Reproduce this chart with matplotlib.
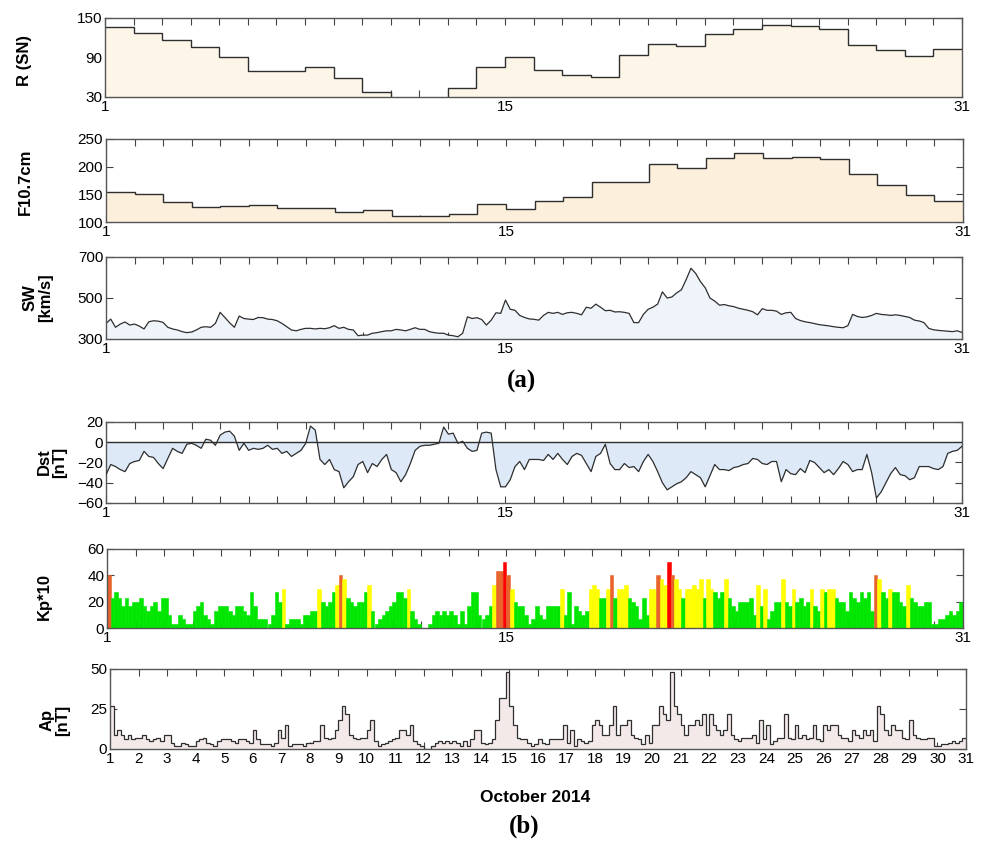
import numpy as np
import matplotlib
matplotlib.use('Agg')
import matplotlib.pyplot as plt

plt.rcParams['font.family'] = ['Liberation Sans', 'DejaVu Sans']

# daily sunspot number and F10.7 flux (one value per day, Oct 1-30)
sunspot = [136, 127, 117, 106, 90, 69, 69, 75, 59, 37,
           27, 27, 43, 75, 90, 71, 64, 61, 94, 111,
           108, 125, 134, 139, 138, 134, 109, 101, 93, 103]
f107 = [155, 150, 137, 127, 129, 131, 126, 126, 118, 121,
        111, 110, 114, 132, 124, 138, 145, 172, 172, 204,
        198, 216, 224, 215, 217, 214, 187, 166, 148, 138]

# solar wind speed, 4-hourly samples
sw_speed = [376, 397, 357, 373, 383, 368,
            373, 363, 349, 384, 389, 387,
            381, 357, 349, 344, 336, 331,
            334, 344, 357, 360, 357, 376,
            430, 405, 379, 357, 412, 400,
            397, 395, 405, 404, 397, 395,
            389, 376, 360, 344, 340, 347,
            352, 352, 349, 352, 350, 355,
            365, 352, 357, 347, 344, 316,
            319, 319, 328, 331, 336, 340,
            340, 347, 344, 340, 347, 355,
            347, 347, 336, 331, 328, 328,
            319, 316, 311, 328, 408, 400,
            404, 395, 368, 392, 428, 425,
            490, 445, 440, 415, 405, 398,
            396, 392, 415, 430, 425, 430,
            420, 428, 430, 425, 418, 455,
            450, 470, 455, 438, 440, 432,
            433, 430, 425, 380, 380, 420,
            445, 455, 470, 530, 500, 505,
            525, 540, 590, 645, 620, 580,
            550, 500, 485, 465, 468, 462,
            458, 450, 445, 440, 433, 418,
            448, 440, 440, 436, 420, 428,
            430, 400, 390, 384, 380, 375,
            370, 367, 364, 360, 357, 355,
            365, 420, 410, 405, 408, 415,
            425, 420, 418, 415, 418, 415,
            410, 405, 392, 388, 380, 352,
            345, 342, 340, 338, 336, 340,
            332]

# Dst index, 4-hourly samples
dst = [-32, -22, -24, -27, -29, -21,
       -19, -18, -9, -14, -15, -21,
       -26, -16, -6, -9, -11, -2,
       -1, -3, -6, 3, 2, -3,
       7, 10, 11, 6, -8, -1,
       -8, -6, -7, -6, -3, -7,
       -6, -11, -9, -14, -11, -8,
       -1, 16, 12, -17, -22, -17,
       -27, -29, -45, -39, -34, -22,
       -19, -30, -21, -24, -17, -12,
       -27, -30, -39, -32, -21, -8,
       -4, -3, -3, -2, -1, 15,
       8, 9, -1, 1, -6, -9,
       -8, 9, 10, 9, -27, -44,
       -44, -37, -24, -19, -27, -17,
       -17, -17, -18, -12, -17, -11,
       -17, -22, -14, -11, -13, -21,
       -29, -14, -11, -2, -21, -27,
       -27, -21, -25, -24, -29, -19,
       -12, -19, -29, -40, -47, -44,
       -41, -39, -35, -29, -32, -35,
       -44, -33, -22, -27, -27, -28,
       -25, -24, -22, -21, -16, -17,
       -21, -22, -19, -19, -39, -27,
       -31, -32, -26, -30, -18, -20,
       -25, -30, -27, -32, -26, -19,
       -22, -29, -27, -27, -12, -30,
       -55, -49, -40, -31, -25, -32,
       -33, -37, -35, -24, -24, -24,
       -26, -27, -24, -11, -9, -8,
       -4]

# Kp*10, 3-hourly
kp10 = [40, 23, 27, 23, 17, 23, 17, 20,
        20, 23, 17, 13, 17, 20, 13, 23,
        23, 10, 3, 3, 10, 7, 3, 3,
        13, 17, 20, 10, 7, 3, 13, 17,
        17, 17, 13, 10, 17, 17, 13, 10,
        27, 17, 7, 7, 7, 3, 10, 27,
        20, 30, 3, 7, 7, 7, 3, 10,
        10, 13, 13, 30, 20, 17, 20, 27,
        33, 40, 37, 23, 20, 17, 20, 20,
        27, 33, 13, 3, 7, 10, 13, 17,
        20, 27, 27, 23, 30, 13, 7, 3,
        0, 0, 3, 10, 13, 10, 13, 10,
        13, 10, 3, 13, 3, 17, 27, 27,
        10, 7, 10, 17, 33, 43, 43, 50,
        40, 30, 20, 17, 17, 10, 3, 7,
        17, 10, 7, 17, 17, 17, 17, 30,
        10, 27, 3, 17, 13, 10, 13, 30,
        33, 30, 23, 23, 30, 40, 23, 30,
        30, 33, 23, 20, 17, 7, 23, 10,
        30, 30, 40, 37, 33, 50, 40, 37,
        30, 23, 30, 30, 33, 30, 37, 23,
        37, 30, 27, 23, 27, 37, 23, 17,
        13, 20, 20, 20, 23, 10, 33, 17,
        30, 7, 13, 20, 20, 37, 20, 17,
        30, 20, 23, 17, 20, 30, 17, 13,
        30, 27, 30, 30, 23, 20, 20, 13,
        27, 23, 20, 27, 23, 27, 13, 40,
        37, 27, 23, 30, 27, 27, 20, 17,
        33, 23, 20, 17, 17, 20, 20, 3,
        3, 7, 7, 10, 13, 10, 13, 20]

# ap, 3-hourly
ap = [27, 9, 12, 9, 6, 9, 6, 7,
      7, 9, 6, 5, 6, 7, 5, 9,
      9, 4, 2, 2, 4, 3, 2, 2,
      5, 6, 7, 4, 3, 2, 5, 6,
      6, 6, 5, 4, 6, 6, 5, 4,
      12, 6, 3, 3, 3, 2, 4, 12,
      7, 15, 2, 3, 3, 3, 2, 4,
      4, 5, 5, 15, 7, 6, 7, 12,
      18, 27, 22, 9, 7, 6, 7, 7,
      12, 18, 5, 2, 3, 4, 5, 6,
      7, 12, 12, 9, 15, 5, 3, 2,
      0, 0, 2, 4, 5, 4, 5, 4,
      5, 4, 2, 5, 2, 6, 12, 12,
      4, 3, 4, 6, 18, 32, 32, 48,
      27, 15, 7, 6, 6, 4, 2, 3,
      6, 4, 3, 6, 6, 6, 6, 15,
      4, 12, 2, 6, 5, 4, 5, 15,
      18, 15, 9, 9, 15, 27, 9, 15,
      15, 18, 9, 7, 6, 3, 9, 4,
      15, 15, 27, 22, 18, 48, 27, 22,
      15, 9, 15, 15, 18, 15, 22, 9,
      22, 15, 12, 9, 12, 22, 9, 6,
      5, 7, 7, 7, 9, 4, 18, 6,
      15, 3, 5, 7, 7, 22, 7, 6,
      15, 7, 9, 6, 7, 15, 6, 5,
      15, 12, 15, 15, 9, 7, 7, 5,
      12, 9, 7, 12, 9, 12, 5, 27,
      22, 12, 9, 15, 12, 12, 7, 6,
      18, 9, 7, 6, 6, 7, 7, 2,
      2, 3, 3, 4, 5, 4, 5, 7]

days = np.arange(1, 32)
W, H = 983, 843
LINE = '#2e2e2e'


def px_rect(left, top, right, bottom):
    return [left / W, 1 - bottom / H, (right - left) / W, (bottom - top) / H]


def make_panel(rect, ylim, yticks, all_days=False):
    ax = fig.add_axes(rect)
    ax.set_xlim(1, 31)
    ax.set_ylim(*ylim)
    ax.set_yticks(yticks)
    ax.set_xticks(days)
    if all_days:
        ax.set_xticklabels([str(d) for d in days])
    else:
        ax.set_xticklabels([str(d) if d in (1, 15, 31) else '' for d in days])
    ax.tick_params(direction='in', top=True, right=True, length=5, width=0.8,
                   color='#444444', labelsize=11, pad=2)
    # ticks go under the filled areas, like the original
    ax.set_axisbelow(True)
    for s in ax.spines.values():
        s.set_color('#555555')
        s.set_linewidth(1.0)
    return ax


def ylab(text, x, y):
    fig.text(x / W, 1 - y / H, text, rotation=90, ha='center', va='center',
             fontsize=12, fontweight='bold', multialignment='center',
             linespacing=1.1)


fig = plt.figure(figsize=(W / 100, H / 100), dpi=100)

# R (SN)
ax = make_panel(px_rect(105, 18, 962, 97), (30, 150), [30, 90, 150])
ax.stairs(sunspot, days, baseline=0, fill=True, color='#fdf5e8', lw=0, zorder=1)
ax.stairs(sunspot, days, baseline=None, color=LINE, lw=1.0, zorder=2)
ylab('R (SN)', 25, 60)

# F10.7
ax = make_panel(px_rect(106, 139, 963, 222), (100, 250), [100, 150, 200, 250])
ax.stairs(f107, days, baseline=0, fill=True, color='#fcf0dc', lw=0, zorder=1)
ax.stairs(f107, days, baseline=None, color=LINE, lw=1.0, zorder=2)
ylab('F10.7cm', 25, 182)

# solar wind
t4 = 1 + np.arange(len(sw_speed)) / 6
ax = make_panel(px_rect(106, 257, 962, 339), (300, 700), [300, 500, 700])
ax.fill_between(t4, 300, sw_speed, color='#eff4fb', lw=0, zorder=1)
ax.plot(t4, sw_speed, color=LINE, lw=0.9, zorder=2)
ylab('SW\n[km/s]', 38, 298)

fig.text(522 / W, 1 - 381 / H, '(a)', family=['Liberation Serif', 'DejaVu Serif'],
         fontsize=18, fontweight='bold', ha='center', va='center')

# Dst
ax = make_panel(px_rect(106, 422, 962, 503), (-60, 20), [-60, -40, -20, 0, 20])
ax.fill_between(t4, 0, dst, color='#dde9f7', lw=0, zorder=1)
ax.axhline(0, color=LINE, lw=1.0, zorder=2)
ax.plot(t4, dst, color=LINE, lw=0.9, zorder=3)
ylab('Dst\n[nT]', 52, 462)

# Kp*10
t3 = 1 + np.arange(len(kp10)) / 8
kp_colors = []
for v in kp10:
    if v >= 47:
        kp_colors.append('#ff0000')
    elif v >= 40:
        kp_colors.append('#e8632b')
    elif v >= 30:
        kp_colors.append('#ffff00')
    else:
        kp_colors.append('#00e600')
ax = make_panel(px_rect(107, 549, 963, 628), (0, 60), [0, 20, 40, 60])
ax.bar(t3, kp10, width=0.125, align='edge', color=kp_colors,
       edgecolor=kp_colors, lw=0.4, zorder=1)
ylab('Kp*10', 44, 597)

# Ap
edges3 = 1 + np.arange(len(ap) + 1) / 8
ax = make_panel(px_rect(110, 669, 966, 749), (0, 50), [0, 25, 50], all_days=True)
ax.stairs(ap, edges3, baseline=0, fill=True, color='#f4e9e9', lw=0, zorder=1)
ax.stairs(ap, edges3, baseline=None, color=LINE, lw=0.9, zorder=2)
ylab('Ap\n[nT]', 55, 720)

fig.text(535 / W, 1 - 798 / H, 'October 2014', fontsize=12.5, fontweight='bold',
         ha='center', va='center')
fig.text(524 / W, 1 - 826 / H, '(b)', family=['Liberation Serif', 'DejaVu Serif'],
         fontsize=18, fontweight='bold', ha='center', va='center')

fig.savefig('out.png', dpi=100)
